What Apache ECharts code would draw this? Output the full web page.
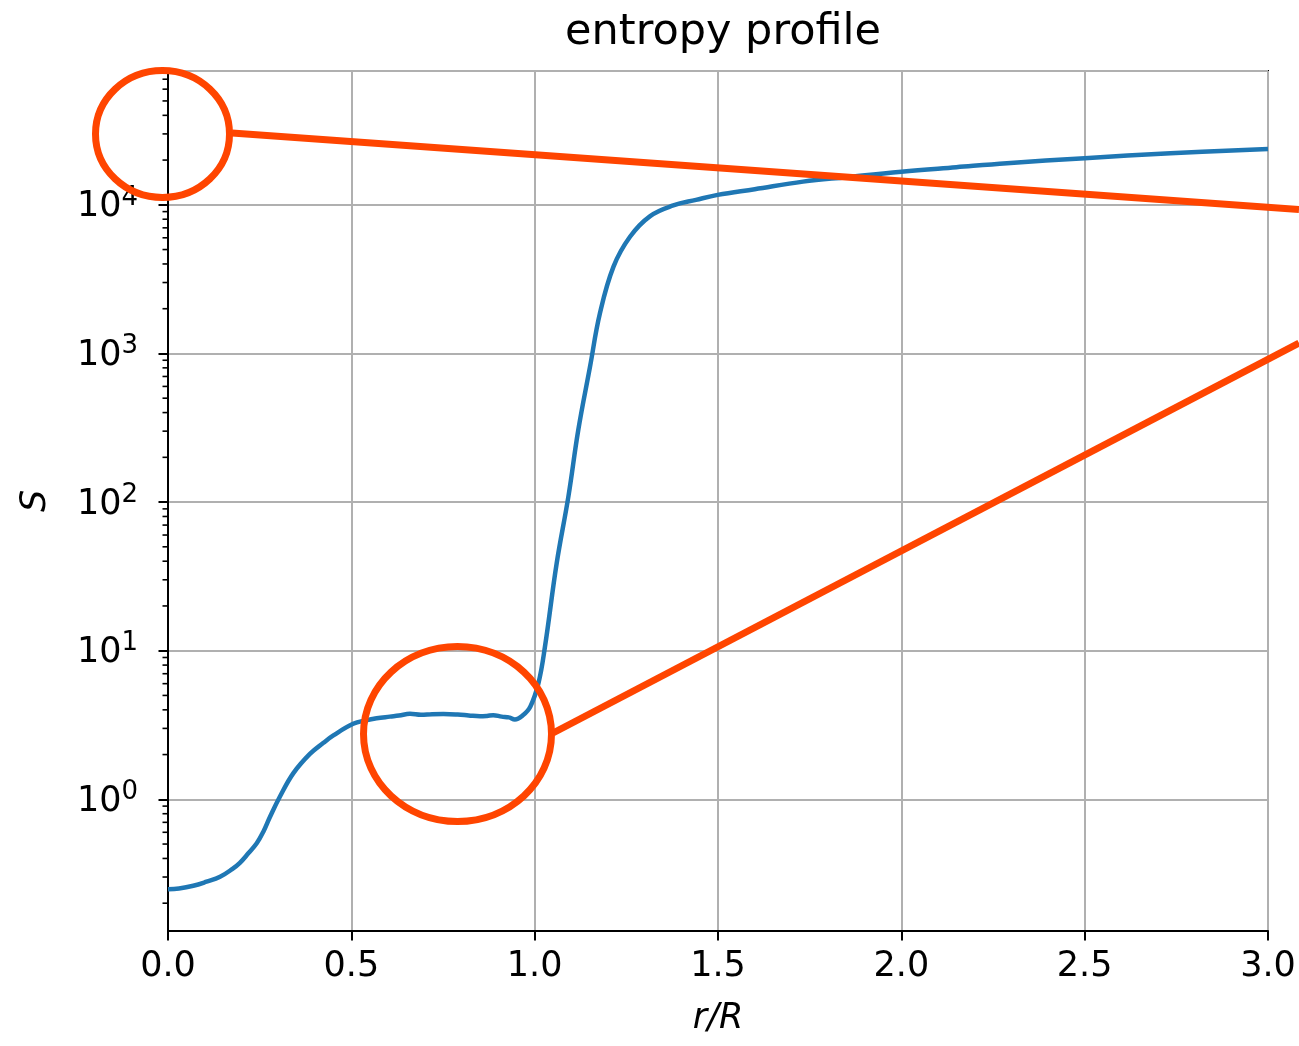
<!DOCTYPE html>
<html>
<head>
<meta charset="utf-8">
<script src="https://cdn.jsdelivr.net/npm/echarts@6/dist/echarts.min.js"></script>
<style>
html,body{margin:0;padding:0;background:#fff;}
#chart{width:1299px;height:1046px;}
</style>
</head>
<body>
<div id="chart"></div>
<script>
// ---- data ----
const titleText = 'entropy profile';
const xName = 'r/R';
const yName = 'S';
const xTicks = [0, 0.5, 1.0, 1.5, 2.0, 2.5, 3.0];
const yTickExponents = [0, 1, 2, 3, 4];
const yMinorTicks = [0.2,0.3,0.4,0.5,0.6,0.7,0.8,0.9,
  2,3,4,5,6,7,8,9, 20,30,40,50,60,70,80,90,
  200,300,400,500,600,700,800,900, 2000,3000,4000,5000,6000,7000,8000,9000,
  20000,30000,40000,50000,60000,70000];
const rValues = [0.000,0.030,0.069,0.105,0.142,0.175,0.196,0.219,0.242,0.260,0.278,0.305,0.342,0.387,0.424,0.451,0.505,0.540,0.569,0.605,0.630,0.660,0.690,0.720,0.751,0.790,0.820,0.851,0.870,0.887,0.910,0.930,0.946,0.967,0.988,1.010,1.028,1.060,1.092,1.119,1.151,1.178,1.215,1.260,1.315,1.378,1.440,1.499,1.600,1.732,1.850,2.000,2.150,2.288,2.500,2.734,3.000];
const sValues = [0.248,0.251,0.262,0.279,0.301,0.339,0.374,0.433,0.506,0.605,0.76,1.04,1.50,2.02,2.40,2.69,3.22,3.40,3.51,3.60,3.66,3.76,3.70,3.74,3.75,3.72,3.67,3.62,3.64,3.68,3.60,3.56,3.44,3.66,4.2,6.0,10.6,38.7,109,306,815,1862,3840,6100,8400,9900,10800,11660,12740,14320,15350,16700,17900,19050,20600,22240,23780];

const curve = rValues.map((r, i) => [r, sValues[i]]);
const minorData = yMinorTicks.map(v => [0, v]);

const chart = echarts.init(document.getElementById('chart'));
const FONT = 'DejaVu Sans';
const option = {
  backgroundColor: '#fff',
  animation: false,
  title: {
    text: titleText,
    left: 718, top: 6, textAlign: 'center',
    textStyle: {fontFamily: FONT, fontSize: 43, fontWeight: 'normal', color: '#000'}
  },
  grid: {left: 168, right: 31, top: 71, bottom: 115, show: true, borderColor: '#000', borderWidth: 2, backgroundColor: 'transparent'},
  xAxis: {
    type: 'value', min: xTicks[0], max: xTicks[xTicks.length-1], interval: 0.5,
    name: xName, nameLocation: 'middle', nameGap: 70,
    nameTextStyle: {fontFamily: FONT, fontSize: 35, fontStyle: 'italic', color: '#000'},
    axisLine: {show: true, lineStyle: {color: '#000', width: 2}},
    axisTick: {show: true, inside: false, length: 9.5, lineStyle: {color: '#000', width: 2}},
    axisLabel: {margin: 18, fontFamily: FONT, fontSize: 35, color: '#000', formatter: v => v.toFixed(1)},
    splitLine: {show: true, lineStyle: {color: '#b0b0b0', width: 2}}
  },
  yAxis: {
    type: 'log', logBase: 10, min: 0.13, max: 79500,
    name: yName, nameLocation: 'middle', nameGap: 115, nameRotate: 90,
    nameTextStyle: {fontFamily: FONT, fontSize: 35, fontStyle: 'italic', color: '#000'},
    axisLine: {show: true, lineStyle: {color: '#000', width: 2}},
    axisTick: {show: true, inside: false, length: 9.5, lineStyle: {color: '#000', width: 2}},
    axisLabel: {
      margin: 30, showMinLabel: false, showMaxLabel: false,
      formatter: function (v) {
        const e = Math.round(Math.log10(v));
        if (yTickExponents.indexOf(e) < 0 || Math.abs(Math.log10(v) - e) > 1e-6) return '';
        return '{b|10}{s|' + e + '}';
      },
      rich: {
        b: {fontFamily: FONT, fontSize: 35, color: '#000', lineHeight: 40, verticalAlign: 'bottom'},
        s: {fontFamily: FONT, fontSize: 26, color: '#000', lineHeight: 40, verticalAlign: 'top', padding: [0, 0, 12, 0]}
      }
    },
    splitLine: {show: true, lineStyle: {color: '#b0b0b0', width: 2}}
  },
  series: [
    {
      type: 'line', data: curve, showSymbol: false, smooth: 0.4,
      lineStyle: {color: '#1f77b4', width: 4.5}, z: 3
    },
    {
      type: 'custom', data: minorData, silent: true, clip: false, z: 4,
      renderItem: function (params, api) {
        const p = api.coord([api.value(0), api.value(1)]);
        return {type: 'line', shape: {x1: p[0] - 5.5, y1: p[1], x2: p[0], y2: p[1]},
          style: {stroke: '#000', lineWidth: 1.6}};
      }
    }
  ],
  graphic: [
    {type: 'ellipse', shape: {cx: 162.5, cy: 134, rx: 67, ry: 63.5}, style: {fill: 'none', stroke: '#FF4500', lineWidth: 7}, z: 100},
    {type: 'line', shape: {x1: 232, y1: 133, x2: 1299, y2: 209.5}, style: {stroke: '#FF4500', lineWidth: 7}, z: 100},
    {type: 'ellipse', shape: {cx: 457.5, cy: 734, rx: 94, ry: 87.5}, style: {fill: 'none', stroke: '#FF4500', lineWidth: 7}, z: 100},
    {type: 'line', shape: {x1: 553, y1: 733, x2: 1299, y2: 343}, style: {stroke: '#FF4500', lineWidth: 7}, z: 100}
  ]
};
chart.setOption(option);
</script>
</body>
</html>
